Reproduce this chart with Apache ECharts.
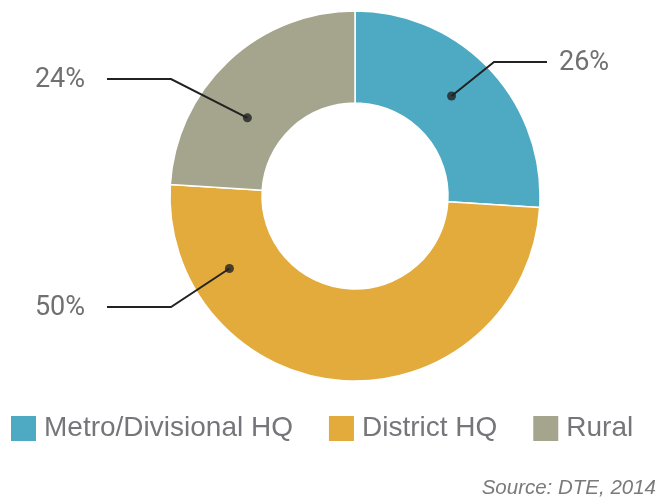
<!DOCTYPE html>
<html>
<head>
<meta charset="utf-8">
<script src="https://cdn.jsdelivr.net/npm/echarts@6/dist/echarts.min.js"></script>
<style>
  html, body { margin: 0; padding: 0; background: #fff; }
  #main { width: 659px; height: 500px; }
</style>
</head>
<body>
<div id="main"></div>
<script>
const categories = ['Metro/Divisional HQ', 'District HQ', 'Rural'];
const shares = [26, 50, 24];
const colors = ['#4eaac3', '#e2ab3b', '#a5a48d'];

// label placement (layout only)
const CX = 355, CY = 196, R_IN = 93, R_OUT = 185;
const dotAngle = [44, 240, 306];
const dotRadius = [139, 145, 133];
const labelY = [62, 307, 79];
const elbowX = [494, 171, 171];
const lineEndX = [547, 107, 107];
const labelX = [559, 85, 85];

const polarPoint = (deg, r) => {
  const a = deg * Math.PI / 180;
  return [CX + r * Math.sin(a), CY - r * Math.cos(a)];
};

const pieData = categories.map((name, i) => ({ name, value: shares[i], itemStyle: { color: colors[i] } }));

const myChart = echarts.init(document.getElementById('main'));
myChart.setOption({
  animation: false,
  title: {
    text: 'Source: DTE, 2014',
    right: 3,
    top: 478,
    padding: 0,
    textStyle: { fontFamily: 'Liberation Sans', fontSize: 20.5, fontStyle: 'italic', fontWeight: 'normal', color: '#7a7a7a' }
  },
  legend: {
    data: categories,
    left: 9,
    top: 414,
    padding: 0,
    icon: 'rect',
    itemWidth: 27,
    itemHeight: 27,
    itemGap: 34,
    selectedMode: false,
    textStyle: { fontFamily: 'Liberation Sans', fontSize: 28, color: '#76767a', padding: [2, 0, 0, 2] }
  },
  polar: { center: [CX, CY], radius: R_OUT },
  angleAxis: {
    type: 'value', min: 0, max: 360, startAngle: 90, clockwise: true,
    axisLine: { show: false }, axisTick: { show: false }, axisLabel: { show: false }, splitLine: { show: false }
  },
  radiusAxis: {
    type: 'value', min: 0, max: R_OUT,
    axisLine: { show: false }, axisTick: { show: false }, axisLabel: { show: false }, splitLine: { show: false }
  },
  series: [
    {
      type: 'pie',
      center: [CX, CY],
      radius: [R_IN, R_OUT],
      startAngle: 90,
      clockwise: true,
      emphasis: { disabled: true },
      itemStyle: { borderColor: '#fff', borderWidth: 1.5 },
      label: { show: false },
      labelLine: { show: false },
      data: pieData
    },
    {
      // transparent copy on top, only for labels and leader lines
      type: 'pie',
      z: 4,
      silent: true,
      center: [CX, CY],
      radius: [R_IN, R_OUT],
      startAngle: 90,
      clockwise: true,
      avoidLabelOverlap: false,
      emphasis: { disabled: true },
      itemStyle: { color: 'transparent', borderWidth: 0 },
      label: {
        show: true,
        position: 'outside',
        formatter: (p) => p.value + '%',
        fontFamily: 'Roboto',
        fontSize: 27,
        color: '#707070'
      },
      labelLine: { show: true, lineStyle: { color: '#222', width: 2 } },
      labelLayout: (params) => {
        const i = params.dataIndex;
        return {
          x: labelX[i],
          y: labelY[i] + 1,
          align: i === 0 ? 'left' : 'right',
          verticalAlign: 'middle',
          labelLinePoints: [
            polarPoint(dotAngle[i], dotRadius[i]),
            [elbowX[i], labelY[i]],
            [lineEndX[i], labelY[i]]
          ]
        };
      },
      data: categories.map((name, i) => ({ name, value: shares[i] }))
    },
    {
      type: 'scatter',
      coordinateSystem: 'polar',
      symbolSize: 9,
      z: 5,
      silent: true,
      itemStyle: { color: '#222' },
      data: dotAngle.map((a, i) => [dotRadius[i], a])
    }
  ]
});
window.onresize = function () {
  myChart.resize();
};
</script>
</body>
</html>
